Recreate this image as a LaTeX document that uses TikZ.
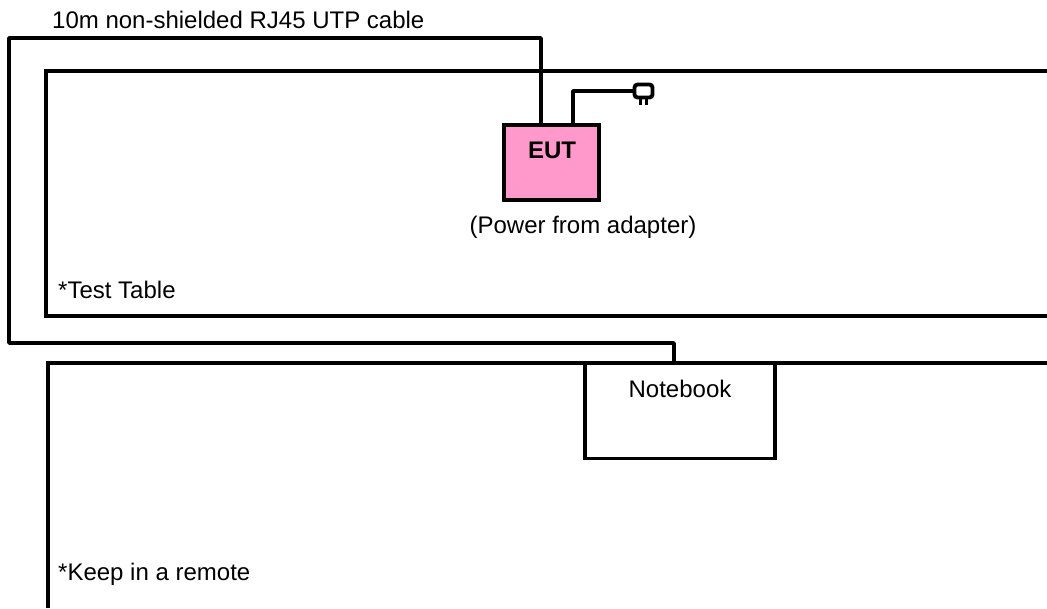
\documentclass[tikz,border=0pt]{standalone}
\usepackage{fontspec}
\setmainfont{Liberation Sans}
\tikzset{
  wire/.style={line width=3.6pt,line join=round,draw=black},
  thinwire/.style={line width=3.2pt,line join=miter,draw=black},
  lab/.style={inner sep=0pt,anchor=base west,font=\fontsize{24}{28}\selectfont,text=black},
  labc/.style={lab,anchor=base},
  eutbox/.style={draw=black,line width=3.6pt,fill=eutpink,minimum width=95pt,minimum height=75pt,inner sep=0pt},
  nbbox/.style={draw=black,line width=3.2pt,fill=white,minimum width=190pt,minimum height=95pt,inner sep=0pt},
  plugbody/.style={draw=black,line width=3.8pt,fill=white,rounded corners=3pt,minimum width=18pt,minimum height=13pt,inner sep=0pt},
}
\definecolor{eutpink}{HTML}{FF99CC}
\begin{document}
\begin{tikzpicture}[x=1pt,y=-1pt]
\useasboundingbox (0,0) rectangle (1047,608);
% test table and remote area (open on the right edge)
\coordinate (ttr) at (1047,71);
\coordinate (ttl) at (46,71);
\coordinate (tbl) at (46,316);
\coordinate (tbr) at (1047,316);
\draw[thinwire] (ttr) -- (ttl) -- (tbl) -- (tbr);
\coordinate (rtr) at (1047,363);
\coordinate (rtl) at (48,363);
\coordinate (rbl) at (48,608);
\draw[thinwire] (rtr) -- (rtl) -- (rbl);
% devices
\node[eutbox] (eut) at (551.5,162.5) {};
\node[nbbox] (nb) at (680,411) {};
\node[plugbody] (plug) at (643.5,91) {};
\coordinate (p1a) at (640,98); \coordinate (p1b) at (640,105);
\coordinate (p2a) at (646,98); \coordinate (p2b) at (646,105);
\draw[line width=3pt] (p1a) -- (p1b);
\draw[line width=3pt] (p2a) -- (p2b);
% cable
\coordinate (c0) at (541,124);
\coordinate (c1) at (541,38);
\coordinate (c2) at (9,38);
\coordinate (c3) at (9,343);
\coordinate (c4) at (674,343);
\coordinate (c5) at (674,363);
\draw[wire] (c0) -- (c1) -- (c2) -- (c3) -- (c4) -- (c5);
% power lead
\coordinate (e1) at (573,124);
\coordinate (e2) at (573,91);
\draw[wire] (e1) -- (e2) -- (plug.west);
% labels
\node[lab] (l1) at (52,28.5) {10m non-shielded RJ45 UTP cable};
\node[labc] (l2) at (552,158) {\bfseries EUT};
\node[labc] (l3) at (583,233) {(Power from adapter)};
\node[lab] (l4) at (58,298.5) {*Test Table};
\node[labc] (l5) at (680,397) {Notebook};
\node[lab] (l6) at (58,580) {*Keep in a remote};
\end{tikzpicture}
\end{document}
